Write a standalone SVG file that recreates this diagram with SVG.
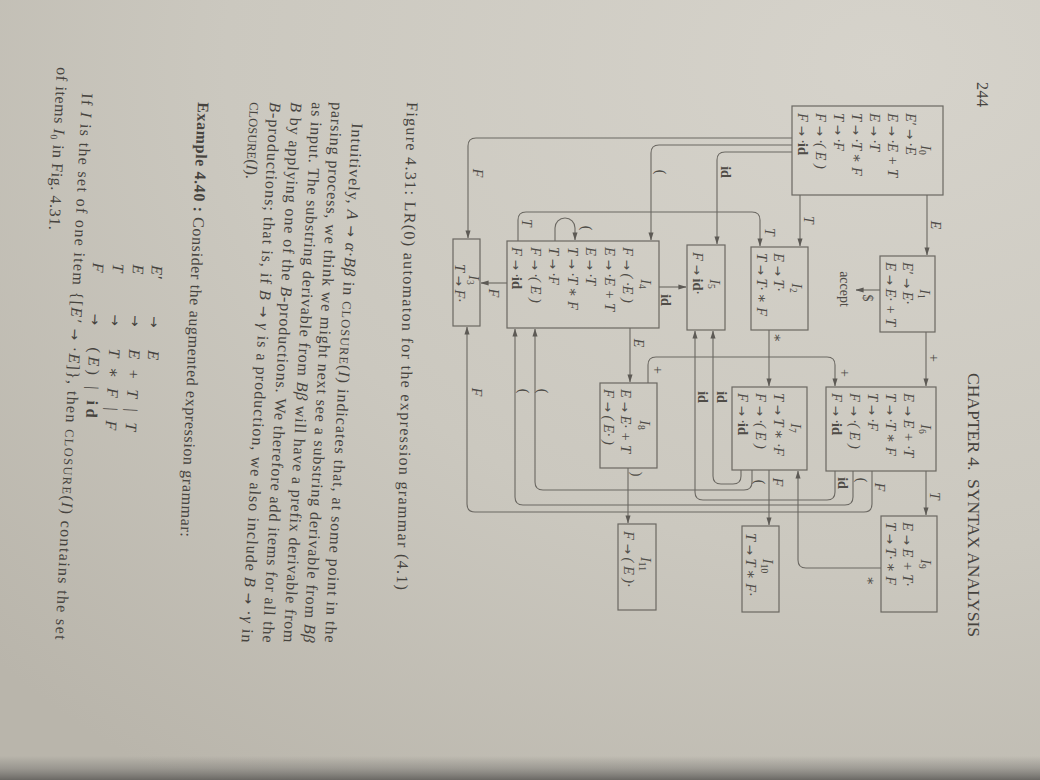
<svg xmlns="http://www.w3.org/2000/svg" width="1040" height="780" viewBox="0 0 1040 780">
  <defs>
    <radialGradient id="paper" cx="0.85" cy="0.08" r="1.15">
      <stop offset="0" stop-color="#d6d3cb"/>
      <stop offset="0.55" stop-color="#cbc8bf"/>
      <stop offset="1" stop-color="#b9b5ab"/>
    </radialGradient>
    <linearGradient id="edgeShade" x1="0" y1="0" x2="0" y2="1">
      <stop offset="0" stop-color="#7d7b77" stop-opacity="0"/>
      <stop offset="0.5" stop-color="#7d7b77" stop-opacity="0.5"/>
      <stop offset="1" stop-color="#6a6864"/>
    </linearGradient>
    <marker id="arr" viewBox="0 0 10 10" refX="9.5" refY="5" markerWidth="8" markerHeight="8" markerUnits="userSpaceOnUse" orient="auto">
      <path d="M0,1.8 L10,5 L0,8.2 Z" fill="#5d5a55"/>
    </marker>
    <style>
      .box{fill:none;stroke:#6b6862;stroke-width:1.2}
      .edge{fill:none;stroke:#6b6862;stroke-width:1.1;marker-end:url(#arr)}
      .it{font-family:"Liberation Serif","DejaVu Serif",serif;font-size:14.5px;font-style:italic;fill:#4f4c47}
      .lb{text-anchor:middle}
      .el{font-family:"Liberation Serif","DejaVu Serif",serif;font-size:14px;font-style:italic;fill:#4f4c47;text-anchor:middle}
      .b{font-style:normal;font-weight:bold}
      .up{font-style:normal}
      .sub{font-size:9.5px;font-style:normal}
      .ar{font-family:"DejaVu Sans",sans-serif;font-style:normal;font-weight:normal;font-size:0.85em}
      .body{font-family:"Liberation Serif","DejaVu Serif",serif;font-size:16px;fill:#46433e}
      .m{font-style:italic}
      .sc{font-size:12.5px}
    </style>
  </defs>

  <!-- paper and the dark table edge below it -->
  <rect width="1040" height="780" fill="url(#paper)"/>
  <rect y="756" width="1040" height="24" fill="url(#edgeShade)"/>

  <!-- the page is laid out upright and turned a quarter turn -->
  <g transform="matrix(0 1 -1 0 1040 0)">

    <!-- running head -->
    <text class="body" x="82" y="63" font-size="15" textLength="25">244</text>
    <text class="body" x="373" y="72" font-size="15" textLength="264" lengthAdjust="spacingAndGlyphs">CHAPTER 4.&#160; SYNTAX ANALYSIS</text>

    <!-- connectors -->
    <g id="connectors">
      <path class="edge" d="M195,113 H255"/>
      <path class="edge" d="M195,240 H246"/>
      <path class="edge" d="M138,248 V564 Q138,572 146,572 H238"/>
      <path class="edge" d="M145,248 V381 Q145,389 153,389 H240"/>
      <path class="edge" d="M152,248 V315 Q152,323 160,323 H244"/>
      <path class="edge" d="M290,160 V184"/>
      <path class="edge" d="M332,114 H386"/>
      <path class="edge" d="M471,114 H515"/>
      <path class="edge" d="M330,271 H386"/>
      <path class="edge" d="M470,271 H525"/>
      <path class="edge" d="M568,159 V234 Q568,242 560,242 H471"/>
      <path class="edge" d="M383,392 H365 Q357,392 357,384 V213 Q357,205 365,205 H386"/>
      <path class="edge" d="M328,410 H382"/>
      <path class="edge" d="M468,412 H523"/>
      <path class="edge" d="M287,381 V354"/>
      <path class="edge" d="M283,533 V559"/>
      <path class="edge" d="M241,522 H220 Q212,522 212,514 V288 Q212,280 220,280 H246"/>
      <path class="edge" d="M241,485 H228 A10,10 0 0 1 228,465 H240"/>
      <path class="edge" d="M471,205 H492 Q500,205 500,213 V337 Q500,345 492,345 H331"/>
      <path class="edge" d="M471,187 H497 Q505,187 505,195 V517 Q505,525 497,525 H329"/>
      <path class="edge" d="M471,168 H504 Q512,168 512,176 V565 Q512,573 504,573 H327"/>
      <path class="edge" d="M470,299 H476 Q484,299 484,307 V319 Q484,327 476,327 H331"/>
      <path class="edge" d="M470,288 H482 Q490,288 490,296 V497 Q490,505 482,505 H329"/>

      <!-- edge labels -->
      <text class="el" x="225" y="109">E</text>
      <text class="el" x="220" y="236">T</text>
      <text class="el" x="173" y="567">F</text>
      <text class="el up" x="172" y="384">(</text>
      <text class="el b" x="172" y="319">id</text>
      <text class="el up" x="298" y="177">$</text>
      <text class="el up" x="289" y="200">accept</text>
      <text class="el up" x="358" y="111">+</text>
      <text class="el" x="496" y="110">T</text>
      <text class="el up" x="338" y="267">∗</text>
      <text class="el" x="482" y="267">F</text>
      <text class="el up" x="581" y="174">∗</text>
      <text class="el up" x="370" y="387">+</text>
      <text class="el up" x="373" y="200">+</text>
      <text class="el" x="343" y="406">E</text>
      <text class="el up" x="474" y="408">)</text>
      <text class="el b" x="300" y="379">id</text>
      <text class="el" x="293" y="551">F</text>
      <text class="el" x="223" y="518">T</text>
      <text class="el" x="232" y="275">T</text>
      <text class="el up" x="228" y="458">(</text>
      <text class="el b" x="483" y="202">id</text>
      <text class="el up" x="480" y="183">(</text>
      <text class="el" x="487" y="165">F</text>
      <text class="el b" x="397" y="342">id</text>
      <text class="el b" x="397" y="323">id</text>
      <text class="el up" x="391" y="502">(</text>
      <text class="el up" x="391" y="521">(</text>
      <text class="el" x="392" y="568">F</text>
      <text class="el up" x="482" y="285">(</text>
    </g>

    <!-- item sets -->
    <g id="I0">
      <rect class="box" x="106" y="97" width="89" height="151"/>
      <text class="it lb" x="150" y="119">I<tspan class="sub" dy="2.5">0</tspan></text>
      <text class="it" x="113" y="134">E′ <tspan class="ar">→</tspan> ·E</text>
      <text class="it" x="113" y="152">E <tspan class="ar">→</tspan> ·E + T</text>
      <text class="it" x="113" y="170">E <tspan class="ar">→</tspan> ·T</text>
      <text class="it" x="113" y="188">T <tspan class="ar">→</tspan> ·T ∗ F</text>
      <text class="it" x="113" y="206">T <tspan class="ar">→</tspan> ·F</text>
      <text class="it" x="113" y="224">F <tspan class="ar">→</tspan> ·( E )</text>
      <text class="it" x="113" y="242">F <tspan class="ar">→</tspan> ·<tspan class="b">id</tspan></text>
    </g>
    <g id="I1">
      <rect class="box" x="256" y="105" width="76" height="55"/>
      <text class="it lb" x="294" y="120">I<tspan class="sub" dy="2.5">1</tspan></text>
      <text class="it" x="262" y="137">E′ <tspan class="ar">→</tspan> E·</text>
      <text class="it" x="262" y="154">E <tspan class="ar">→</tspan> E· + T</text>
    </g>
    <g id="I2">
      <rect class="box" x="247" y="232" width="83" height="57"/>
      <text class="it lb" x="288" y="248">I<tspan class="sub" dy="2.5">2</tspan></text>
      <text class="it" x="253" y="266">E <tspan class="ar">→</tspan> T·</text>
      <text class="it" x="253" y="283">T <tspan class="ar">→</tspan> T· ∗ F</text>
    </g>
    <g id="I3">
      <rect class="box" x="239" y="560" width="87" height="27"/>
      <text class="it lb" x="280" y="571">I<tspan class="sub" dy="2.5">3</tspan></text>
      <text class="it" x="264" y="585">T <tspan class="ar">→</tspan> F·</text>
    </g>
    <g id="I4">
      <rect class="box" x="241" y="381" width="87" height="152"/>
      <text class="it lb" x="284" y="399">I<tspan class="sub" dy="2.5">4</tspan></text>
      <text class="it" x="247" y="417">F <tspan class="ar">→</tspan> ( ·E )</text>
      <text class="it" x="247" y="435.5">E <tspan class="ar">→</tspan> ·E + T</text>
      <text class="it" x="247" y="454">E <tspan class="ar">→</tspan> ·T</text>
      <text class="it" x="247" y="472.5">T <tspan class="ar">→</tspan> ·T ∗ F</text>
      <text class="it" x="247" y="491">T <tspan class="ar">→</tspan> ·F</text>
      <text class="it" x="247" y="509.5">F <tspan class="ar">→</tspan> ·( E )</text>
      <text class="it" x="247" y="528">F <tspan class="ar">→</tspan> ·<tspan class="b">id</tspan></text>
    </g>
    <g id="I5">
      <rect class="box" x="245" y="315" width="85" height="38"/>
      <text class="it lb" x="284" y="330">I<tspan class="sub" dy="2.5">5</tspan></text>
      <text class="it" x="252" y="347">F <tspan class="ar">→</tspan> <tspan class="b">id</tspan>·</text>
    </g>
    <g id="I6">
      <rect class="box" x="387" y="104" width="84" height="110"/>
      <text class="it lb" x="429" y="119">I<tspan class="sub" dy="2.5">6</tspan></text>
      <text class="it" x="393" y="136">E <tspan class="ar">→</tspan> E + ·T</text>
      <text class="it" x="393" y="154">T <tspan class="ar">→</tspan> ·T ∗ F</text>
      <text class="it" x="393" y="172">T <tspan class="ar">→</tspan> ·F</text>
      <text class="it" x="393" y="190">F <tspan class="ar">→</tspan> ·( E )</text>
      <text class="it" x="393" y="208">F <tspan class="ar">→</tspan> ·<tspan class="b">id</tspan></text>
    </g>
    <g id="I7">
      <rect class="box" x="387" y="233" width="83" height="75"/>
      <text class="it lb" x="428" y="249">I<tspan class="sub" dy="2.5">7</tspan></text>
      <text class="it" x="393" y="266">T <tspan class="ar">→</tspan> T ∗ ·F</text>
      <text class="it" x="393" y="284">F <tspan class="ar">→</tspan> ·( E )</text>
      <text class="it" x="393" y="302">F <tspan class="ar">→</tspan> ·<tspan class="b">id</tspan></text>
    </g>
    <g id="I8">
      <rect class="box" x="383" y="383" width="85" height="57"/>
      <text class="it lb" x="425" y="400">I<tspan class="sub" dy="2.5">8</tspan></text>
      <text class="it" x="389" y="419">E <tspan class="ar">→</tspan> E· + T</text>
      <text class="it" x="389" y="436">F <tspan class="ar">→</tspan> ( E· )</text>
    </g>
    <g id="I9">
      <rect class="box" x="516" y="103" width="96" height="56"/>
      <text class="it lb" x="564" y="119">I<tspan class="sub" dy="2.5">9</tspan></text>
      <text class="it" x="522" y="137">E <tspan class="ar">→</tspan> E + T·</text>
      <text class="it" x="522" y="154">T <tspan class="ar">→</tspan> T· ∗ F</text>
    </g>
    <g id="I10">
      <rect class="box" x="526" y="261" width="86" height="37"/>
      <text class="it lb" x="566" y="277">I<tspan class="sub" dy="2.5">10</tspan></text>
      <text class="it" x="533" y="294">T <tspan class="ar">→</tspan> T ∗ F·</text>
    </g>
    <g id="I11">
      <rect class="box" x="524" y="384" width="86" height="38"/>
      <text class="it lb" x="564" y="399">I<tspan class="sub" dy="2.5">11</tspan></text>
      <text class="it" x="531" y="416">F <tspan class="ar">→</tspan> ( E )·</text>
    </g>

    <!-- caption -->
    <text class="body" x="102" y="633" font-size="16.5" textLength="488" transform="rotate(1.2 102 633)">Figure 4.31: LR(0) automaton for the expression grammar (4.1)</text>

    <!-- running text -->
    <text class="body" x="123" y="688" textLength="520" transform="rotate(3 123 688)">Intuitively, <tspan class="m">A</tspan> <tspan class="ar">→</tspan> <tspan class="m">α·Bβ</tspan> in <tspan class="sc">CLOSURE</tspan>(<tspan class="m">I</tspan>) indicates that, at some point in the</text>
    <text class="body" x="102" y="708" textLength="541" transform="rotate(3 102 708)">parsing process, we think we might next see a substring derivable from <tspan class="m">Bβ</tspan></text>
    <text class="body" x="102" y="728" textLength="541" transform="rotate(3 102 728)">as input.  The substring derivable from <tspan class="m">Bβ</tspan> will have a prefix derivable from</text>
    <text class="body" x="102" y="749" textLength="541" transform="rotate(3 102 749)"><tspan class="m">B</tspan> by applying one of the <tspan class="m">B</tspan>-productions.  We therefore add items for all the</text>
    <text class="body" x="102" y="770" textLength="541" transform="rotate(3 102 770)"><tspan class="m">B</tspan>-productions; that is, if <tspan class="m">B</tspan> <tspan class="ar">→</tspan> <tspan class="m">γ</tspan> is a production, we also include <tspan class="m">B</tspan> <tspan class="ar">→</tspan> ·<tspan class="m">γ</tspan> in</text>
    <text class="body" x="102" y="790" transform="rotate(3 102 790)"><tspan class="sc">CLOSURE</tspan>(<tspan class="m">I</tspan>).</text>

    <text class="body" x="102" y="842" textLength="435" transform="rotate(2.3 102 842)"><tspan font-weight="bold">Example 4.40 :</tspan> Consider the augmented expression grammar:</text>

    <g transform="rotate(2.5 262 888)">
      <text class="body m" x="265" y="888">E′</text>
      <text class="body" x="316" y="888"><tspan class="ar">→</tspan></text>
      <text class="body m" x="350" y="888">E</text>
      <text class="body m" x="265" y="907">E</text>
      <text class="body" x="316" y="907"><tspan class="ar">→</tspan></text>
      <text class="body" x="350" y="907" textLength="82"><tspan class="m">E</tspan> + <tspan class="m">T</tspan> | <tspan class="m">T</tspan></text>
      <text class="body m" x="265" y="927">T</text>
      <text class="body" x="316" y="927"><tspan class="ar">→</tspan></text>
      <text class="body" x="350" y="927" textLength="82"><tspan class="m">T</tspan> ∗ <tspan class="m">F</tspan> | <tspan class="m">F</tspan></text>
      <text class="body m" x="265" y="947">F</text>
      <text class="body" x="316" y="947"><tspan class="ar">→</tspan></text>
      <text class="body" x="350" y="947" textLength="70">(<tspan class="m">E</tspan>) | <tspan font-weight="bold">id</tspan></text>
    </g>

    <text class="body" x="93" y="958" textLength="547" transform="rotate(2.8 93 958)">If <tspan class="m">I</tspan> is the set of one item {[<tspan class="m">E′</tspan> <tspan class="ar">→</tspan> ·<tspan class="m">E</tspan>]}, then <tspan class="sc">CLOSURE</tspan>(<tspan class="m">I</tspan>) contains the set</text>
    <text class="body" x="67" y="983" textLength="163" transform="rotate(2.8 67 983)">of items <tspan class="m">I</tspan><tspan font-size="10" dy="3">0</tspan><tspan dy="-3"> in Fig. 4.31.</tspan></text>
  </g>
</svg>
